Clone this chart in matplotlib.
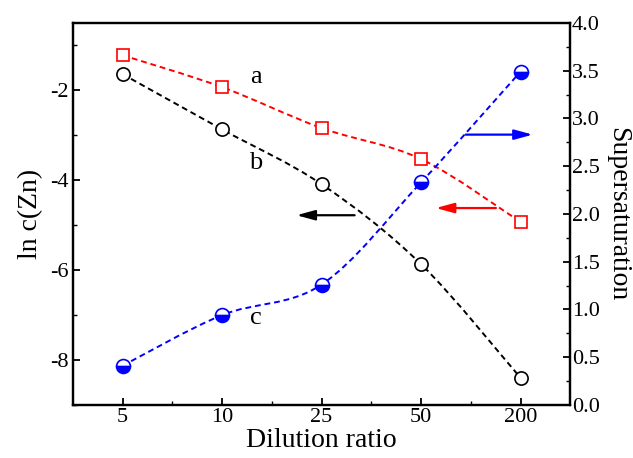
import numpy as np
import matplotlib.pyplot as plt
from matplotlib.path import Path
from matplotlib.patches import PathPatch
from matplotlib.ticker import MultipleLocator

plt.rcParams['font.family'] = ['Liberation Serif', 'DejaVu Serif']
plt.rcParams['axes.unicode_minus'] = False

# data
ratios = ['5', '10', '25', '50', '200']
ln_zn_a = [-1.22, -1.93, -2.84, -3.53, -4.93]
ln_zn_b = [-1.64, -2.87, -4.09, -5.87, -8.40]
supersat_c = [0.41, 0.94, 1.26, 2.33, 3.49]


def smooth_path(xs, ys):
    # Catmull-Rom style bezier through the points
    pts = np.column_stack([xs, ys])
    verts = [pts[0]]
    codes = [Path.MOVETO]
    n = len(pts)
    for i in range(n - 1):
        p0 = pts[max(i - 1, 0)]
        p1 = pts[i]
        p2 = pts[i + 1]
        p3 = pts[min(i + 2, n - 1)]
        c1 = p1 + (p2 - p0) / 6
        c2 = p2 - (p3 - p1) / 6
        verts += [c1, c2, p2]
        codes += [Path.CURVE4] * 3
    return Path(verts, codes)


fig = plt.figure(figsize=(6.33, 4.58), dpi=100)
ax = fig.add_axes([0.115, 0.116, 0.786, 0.834])
ax2 = ax.twinx()

x = np.arange(len(ratios))
dash = (0, (3, 2))

for ys, col in [(ln_zn_a, 'red'), (ln_zn_b, 'black')]:
    ax.add_patch(PathPatch(smooth_path(x, ys), fill=False, edgecolor=col,
                           lw=1.4, linestyle=dash, zorder=2))
ax2.add_patch(PathPatch(smooth_path(x, supersat_c), fill=False, edgecolor='blue',
                        lw=1.4, linestyle=dash, zorder=2))

ax.plot(x, ln_zn_a, ls='none', marker='s', ms=9, mfc='white', mec='red', mew=1.2, zorder=3)
ax.plot(x, ln_zn_b, ls='none', marker='o', ms=9.5, mfc='white', mec='black', mew=1.2, zorder=3)
ax2.plot(x, supersat_c, ls='none', marker='o', ms=10, fillstyle='bottom',
         mfc='blue', mfcalt='white', mec='blue', mew=1.2, zorder=3)

# arrows
arrow = dict(arrowstyle='-|>,head_length=1.1,head_width=0.3', lw=1.6)
ax2.annotate('', xy=(4.15, 2.83), xytext=(3.42, 2.83), arrowprops=dict(color='blue', **arrow))
ax.annotate('', xy=(3.12, -4.62), xytext=(3.78, -4.62), arrowprops=dict(color='red', **arrow))
ax.annotate('', xy=(1.72, -4.78), xytext=(2.36, -4.78), arrowprops=dict(color='black', **arrow))

ax.text(1.34, -1.71, 'a', fontsize=19, ha='center', va='center')
ax.text(1.34, -3.62, 'b', fontsize=19, ha='center', va='center')
ax.text(1.34, -7.07, 'c', fontsize=19, ha='center', va='center')

ax.set_xlim(-0.5, 4.5)
ax.set_ylim(-9, -0.5)
ax2.set_ylim(0, 4)
ax.set_xticks(x)
ax.set_xticklabels(ratios)
ax.set_xticks(x[:-1] + 0.5, minor=True)
ax.yaxis.set_major_locator(MultipleLocator(2))
ax.yaxis.set_minor_locator(MultipleLocator(1))
ax2.yaxis.set_major_locator(MultipleLocator(0.5))
ax2.yaxis.set_minor_locator(MultipleLocator(0.25))
ax2.set_yticklabels(['%.1f' % v for v in ax2.get_yticks()])

for a in (ax, ax2):
    a.tick_params(which='major', direction='in', length=5, width=1.3, labelsize=16, pad=3)
    a.tick_params(which='minor', direction='in', length=3, width=1.0)
    for s in a.spines.values():
        s.set_linewidth(1.6)
ax.tick_params(top=False, right=False, which='both')
ax.tick_params(axis='x', pad=2)
ax2.tick_params(pad=1)

ax.set_xlabel('Dilution ratio', fontsize=20, labelpad=1)
ax.set_ylabel('ln c(Zn)', fontsize=20, labelpad=5)
ax2.set_ylabel('Supersaturation', fontsize=20, rotation=270, labelpad=22)

fig.savefig('out.png', dpi=100)
